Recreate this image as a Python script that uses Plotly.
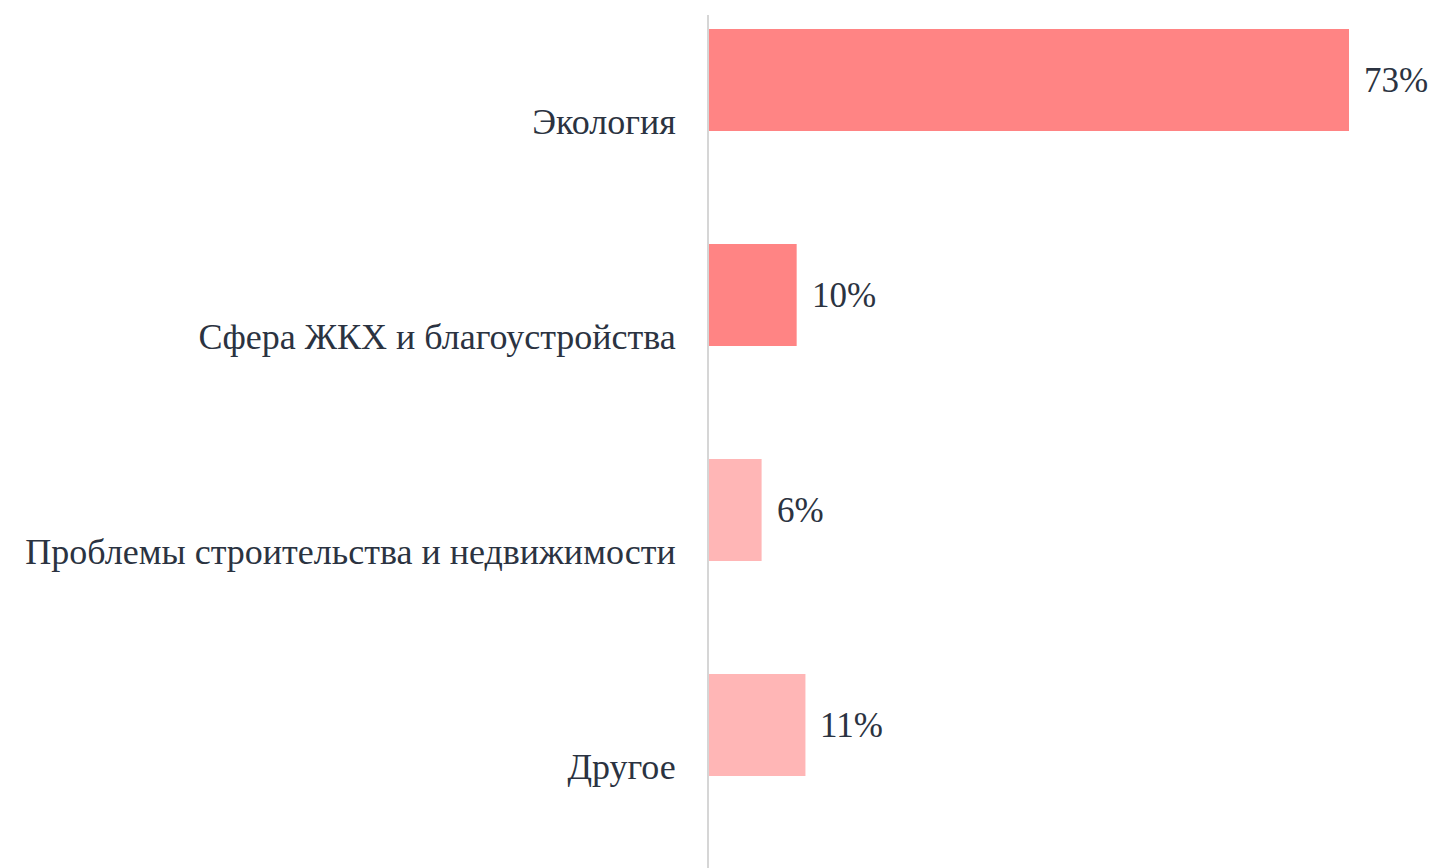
import plotly.graph_objects as go

categories = ["Экология", "Сфера ЖКХ и благоустройства", "Проблемы строительства и недвижимости", "Другое"]
values = [73, 10, 6, 11]
colors = ["#ff8484", "#ff8484", "#ffb6b6", "#ffb6b6"]
labels = [f"{v}%" for v in values]

FONT = "Liberation Serif"
TXT = "#2b3341"

fig = go.Figure()
fig.add_trace(go.Bar(
    y=categories, x=values, orientation="h",
    marker=dict(color=colors, line=dict(width=0)),
    offset=-0.428, width=0.474,
    hoverinfo="skip",
))

for c, v, t in zip(categories, values, labels):
    fig.add_annotation(x=v, y=c, text=t, showarrow=False, xanchor="left",
                       xshift=13, yshift=41,
                       font=dict(family=FONT, size=35, color=TXT))

fig.update_layout(
    width=1430, height=860,
    margin=dict(l=701, r=0, t=7, b=0),
    paper_bgcolor="white", plot_bgcolor="white",
    showlegend=False,
    xaxis=dict(range=[0, 83.15], visible=False, fixedrange=True),
    yaxis=dict(type="category", range=[3.474, -0.493], showgrid=False,
               showline=True, linecolor="#d6d6d6", linewidth=2,
               ticks="", ticklabelstandoff=24,
               tickfont=dict(family=FONT, size=36, color=TXT), fixedrange=True),
)

fig.write_html("out.html")
